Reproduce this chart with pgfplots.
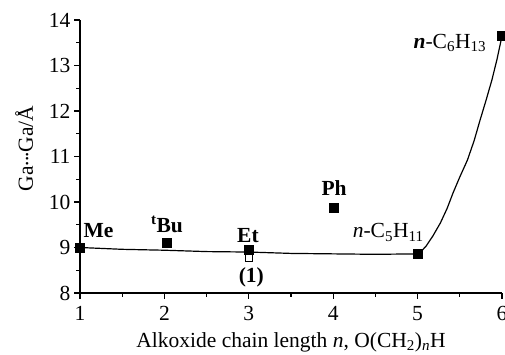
\documentclass[border=0pt]{standalone}
\usepackage{fontspec}
\setmainfont{Liberation Serif}
\usepackage{pgfplots}
\pgfplotsset{compat=1.18}
\begin{document}
\begin{tikzpicture}[font=\fontsize{21.5bp}{24bp}\selectfont]
\begin{axis}[
  name=ax,
  scale only axis, width=422bp, height=273bp,
  xmin=1, xmax=6, ymin=8, ymax=14,
  axis lines=left,
  axis line style={-, line width=1.2pt},
  clip=false,
  xtick={1,2,3,4,5,6}, ytick={8,9,10,11,12,13,14},
  minor x tick num=1, minor y tick num=1,
  tick align=outside,
  major tick length=6bp, minor tick length=4bp,
  tick style={line width=1.2pt, black},
  /pgf/number format/assume math mode=true,
  xticklabel style={yshift=-4bp},
  yticklabel style={xshift=0bp},
  xlabel={Alkoxide chain length \textit{n}, O(CH\textsubscript{2})\textsubscript{\textit{n}}H},
  ylabel={Ga\raisebox{0.22em}{.\kern-0.06em.\kern-0.06em.}Ga/Å},
  xlabel style={yshift=-5bp},
  ylabel style={yshift=9bp, xshift=8bp},
]
% fitted curve
\addplot[black, line width=1.2pt, mark=none] coordinates {
 (1,9.0) (1.5,8.96) (2,8.94) (2.5,8.91) (3,8.9) (3.5,8.87) (4,8.86) (4.5,8.85) (5,8.86)
 (5.04,8.91) (5.1,9.03) (5.18,9.25) (5.27,9.54) (5.35,9.86) (5.42,10.2) (5.5,10.55) (5.59,10.92) (5.67,11.35) (5.74,11.8) (5.81,12.23) (5.88,12.68) (5.94,13.13) (6,13.65)
};
% filled data points
\addplot[only marks, mark=square*, mark size=4.5bp, mark options={fill=black, draw=black}] coordinates {
 (1,9.0) (2.03,9.10) (3,8.95) (4,9.87) (5,8.86) (6,13.65)
};
% open point (1)
\addplot[only marks, mark=square*, mark size=3.5bp, mark options={fill=white, draw=black, line width=1pt}] coordinates {
 (3,8.77)
};
\node[anchor=base west, inner sep=0pt] at (axis cs:1.04,9.23) {\textbf{Me}};
\node[anchor=base west, inner sep=0pt] at (axis cs:1.84,9.34) {\textbf{\textsuperscript{t}Bu}};
\node[anchor=base west, inner sep=0pt] at (axis cs:2.86,9.12) {\textbf{Et}};
\node[anchor=center, inner sep=0pt] at (axis cs:3.03,8.35) {\textbf{(1)}};
\node[anchor=base west, inner sep=0pt] at (axis cs:3.86,10.15) {\textbf{Ph}};
\node[anchor=base west, inner sep=0pt] at (axis cs:4.23,9.21) {\textit{n}-C\textsubscript{5}H\textsubscript{11}};
\node[anchor=base west, inner sep=0pt] at (axis cs:4.95,13.38) {\textbf{\textit{n}}-C\textsubscript{6}H\textsubscript{13}};
\end{axis}
\pgfresetboundingbox
\path ([shift={(-80bp,-62bp)}]ax.south west) rectangle ([shift={(3bp,20bp)}]ax.north east);
\end{tikzpicture}
\end{document}
